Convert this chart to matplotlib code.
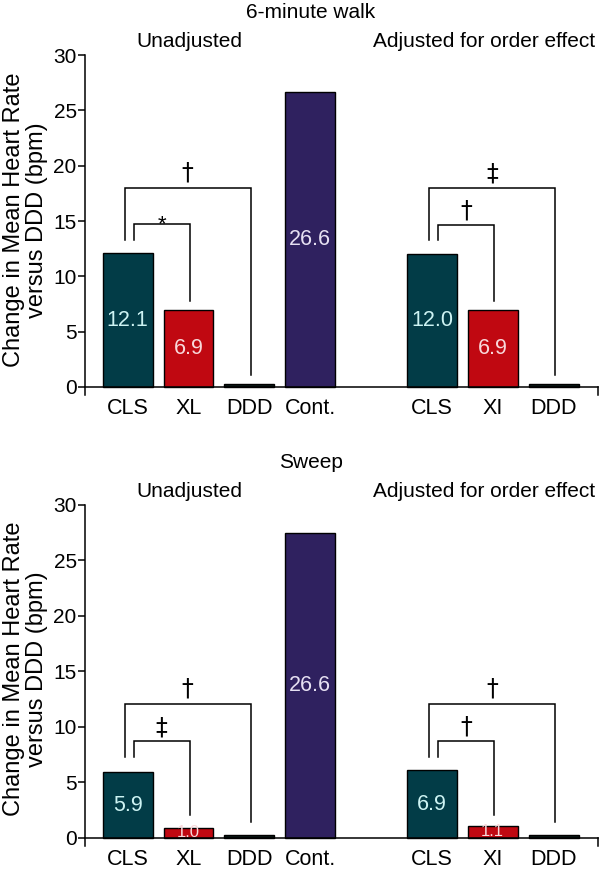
import matplotlib
matplotlib.use("Agg")
import matplotlib.pyplot as plt

plt.rcParams['font.family'] = ['Liberation Sans', 'DejaVu Sans']

# data
positions = [0, 1, 2, 3, 5, 6, 7]
tick_labels = ['CLS', 'XL', 'DDD', 'Cont.', 'CLS', 'XI', 'DDD']

walk_values = [12.1, 7.0, 0.3, 26.7, 12.0, 7.0, 0.3]
walk_labels = ['12.1', '6.9', '', '26.6', '12.0', '6.9', '']

sweep_values = [5.9, 0.9, 0.3, 27.5, 6.1, 1.1, 0.3]
sweep_labels = ['5.9', '1.0', '', '26.6', '6.9', '1.1', '']

# significance brackets: (from bar, to bar, height, left leg end, right leg end, symbol)
walk_brackets = [
    (0, 2, 18.0, 13.3, 1.1, '\u2020'),
    (0, 1, 14.7, 13.3, 7.8, '*'),
    (4, 6, 18.0, 13.3, 1.1, '\u2021'),
    (4, 5, 14.6, 13.3, 7.8, '\u2020'),
]
sweep_brackets = [
    (0, 2, 12.1, 7.3, 1.4, '\u2020'),
    (0, 1, 8.7, 7.3, 2.1, '\u2021'),
    (4, 6, 12.1, 7.3, 1.4, '\u2020'),
    (4, 5, 8.7, 7.3, 2.1, '\u2020'),
]

bar_colors = ['#023c47', '#c00811', '#0b1a17', '#2f215f', '#023c47', '#c00811', '#0b1a17']
text_colors = ['#cdf3f3', '#f8d8da', 'white', '#e6e0f2', '#cdf3f3', '#f8d8da', 'white']

XMIN, XMAX = -0.70, 7.73
YBOT = -0.75

fig = plt.figure(figsize=(6, 8.72), dpi=100)
ax_top = fig.add_axes([0.1417, 0.5467, 0.855, 0.3902])
ax_bot = fig.add_axes([0.1417, 0.0295, 0.855, 0.3914])


def draw_panel(ax, values, labels, brackets):
    bars = ax.bar(positions, values, width=0.82, color=bar_colors,
                  edgecolor='black', linewidth=1.0, zorder=2)
    for b, v, lab, tc in zip(bars, values, labels, text_colors):
        if not lab:
            continue
        size = 15.5 if v > 3 else 12
        t = ax.text(b.get_x() + b.get_width() / 2, v / 2, lab, ha='center',
                    va='center', color=tc, fontsize=size, zorder=3)
        t.set_clip_path(b)

    sym_size = {'\u2020': 17, '\u2021': 17, '*': 16}
    off = {'\u2020': 6, '\u2021': 5, '*': -4}
    for i, j, h, l_end, r_end, sym in brackets:
        outer = (j - i) > 1
        xl = positions[i] + (-0.05 if outer else 0.1)
        xr = positions[j] + 0.02
        ax.plot([xl, xl, xr, xr], [l_end, h, h, r_end], color='black',
                lw=1.1, zorder=4, solid_joinstyle='miter')
        fam = 'Liberation Sans' if sym == '*' else 'DejaVu Sans'
        ax.annotate(sym, ((xl + xr) / 2, h), xytext=(0, off[sym]),
                    textcoords='offset points', ha='center', va='baseline',
                    fontsize=sym_size[sym], family=fam)

    ax.set_xlim(XMIN, XMAX)
    ax.set_ylim(YBOT, 30)
    ax.set_yticks(range(0, 31, 5))
    ax.set_xticks(positions, tick_labels)
    ax.spines['top'].set_visible(False)
    ax.spines['right'].set_visible(False)
    ax.spines['bottom'].set_position(('data', 0))
    for s in ('left', 'bottom'):
        ax.spines[s].set_linewidth(1.1)
    ax.tick_params(axis='y', length=5, width=1.1, pad=1, labelsize=15)
    ax.tick_params(axis='x', length=0, pad=8, labelsize=15.5)
    ax.plot([XMAX, XMAX], [0, YBOT], color='black', lw=1.1, clip_on=False)


draw_panel(ax_top, walk_values, walk_labels, walk_brackets)
draw_panel(ax_bot, sweep_values, sweep_labels, sweep_brackets)

ylab = 'Change in Mean Heart Rate\nversus DDD (bpm)'
fig.text(0.043, 0.748, ylab, rotation=90, ha='center', va='center',
         fontsize=17, linespacing=1.05)
fig.text(0.043, 0.233, ylab, rotation=90, ha='center', va='center',
         fontsize=17, linespacing=1.05)

fig.text(0.518, 0.986, '6-minute walk', ha='center', va='center', fontsize=15)
fig.text(0.315, 0.952, 'Unadjusted', ha='center', va='center', fontsize=15)
fig.text(0.807, 0.952, 'Adjusted for order effect', ha='center', va='center', fontsize=15)
fig.text(0.518, 0.470, 'Sweep', ha='center', va='center', fontsize=15)
fig.text(0.315, 0.436, 'Unadjusted', ha='center', va='center', fontsize=15)
fig.text(0.807, 0.436, 'Adjusted for order effect', ha='center', va='center', fontsize=15)

fig.savefig('out.png', dpi=100)
